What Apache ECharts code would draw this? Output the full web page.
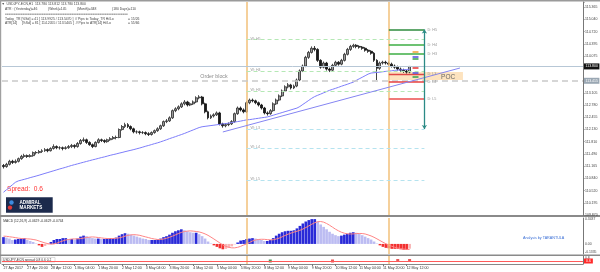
<!DOCTYPE html>
<html><head><meta charset="utf-8">
<script src="https://cdn.jsdelivr.net/npm/echarts@6/dist/echarts.min.js"></script>
<style>html,body{margin:0;padding:0;background:#fff}#c{width:600px;height:272px}</style>
</head><body><div id="c"></div>
<script>
// ---------- DATA ----------
const xTickLabels = ['27 Apr 2017','27 Apr 20:00','28 Apr 12:00','1 May 04:00','1 May 20:00','2 May 12:00','3 May 04:00','3 May 20:00','4 May 12:00','5 May 04:00','5 May 20:00','8 May 12:00','9 May 04:00','9 May 20:00','10 May 12:00','11 May 04:00','11 May 20:00','12 May 12:00'];
const priceLabels = ['109.870','110.195','110.520','110.840','111.165','111.490','111.810','112.130','112.455','112.780','113.105','113.430','113.750','114.075','114.395','114.720','115.040','115.365'];
const priceMin = 109.870, priceMax = 115.504, priceStep = 0.32324;
const slotCount = 196;           // bar slots incl. chart shift
const ticksEvery = 8;            // 2h bars, label every 16h

// [open, close, low, high], 2-hour bars
const candles = [
[111.18,111.15,111.10,111.22],[111.15,111.21,111.12,111.25],[111.21,111.29,111.18,111.33],[111.29,111.26,111.22,111.33],
[111.26,111.29,111.23,111.34],[111.29,111.36,111.26,111.39],[111.36,111.42,111.33,111.46],[111.42,111.44,111.38,111.49],
[111.44,111.42,111.38,111.47],[111.42,111.44,111.39,111.48],[111.44,111.52,111.41,111.55],[111.52,111.52,111.47,111.56],
[111.52,111.55,111.49,111.59],[111.55,111.57,111.51,111.61],[111.57,111.60,111.54,111.64],[111.60,111.57,111.53,111.63],
[111.57,111.63,111.55,111.66],[111.63,111.68,111.60,111.74],[111.68,111.65,111.61,111.71],[111.65,111.65,111.60,111.69],
[111.65,111.63,111.58,111.68],[111.63,111.65,111.60,111.69],[111.65,111.68,111.62,111.72],[111.68,111.71,111.64,111.75],
[111.71,111.68,111.63,111.74],[111.68,111.76,111.65,111.80],[111.76,111.84,111.73,111.88],[111.84,111.86,111.80,111.92],
[111.86,111.79,111.75,111.89],[111.79,111.73,111.70,111.82],[111.73,111.68,111.64,111.76],[111.68,111.79,111.66,111.82],
[111.79,111.86,111.76,111.90],[111.86,111.84,111.80,111.89],[111.84,111.81,111.77,111.87],[111.81,111.86,111.78,111.89],
[111.86,111.89,111.83,111.93],[111.89,111.92,111.86,111.96],[111.92,111.92,111.87,111.97],[111.92,112.13,111.90,112.16],
[112.13,112.21,112.10,112.25],[112.21,112.26,112.17,112.31],[112.26,112.21,112.17,112.30],[112.21,112.15,112.11,112.24],
[112.15,112.07,112.03,112.18],[112.07,112.07,112.02,112.11],[112.07,112.05,112.00,112.10],[112.05,112.05,112.01,112.09],
[112.05,112.02,111.98,112.08],[112.02,112.00,111.96,112.06],[112.00,112.05,111.97,112.08],[112.05,112.10,112.02,112.13],
[112.10,112.15,112.07,112.19],[112.15,112.23,112.12,112.26],[112.23,112.34,112.20,112.37],[112.34,112.36,112.30,112.41],
[112.36,112.44,112.33,112.48],[112.44,112.63,112.41,112.66],[112.63,112.68,112.59,112.72],[112.68,112.73,112.64,112.77],
[112.73,112.81,112.70,112.85],[112.81,112.86,112.77,112.91],[112.86,112.78,112.74,112.89],[112.78,112.81,112.75,112.85],
[112.81,112.86,112.78,112.90],[112.86,112.97,112.83,113.01],[112.97,112.99,112.93,113.04],[112.99,112.81,112.77,113.02],
[112.81,112.60,112.56,112.84],[112.60,112.44,112.40,112.63],[112.44,112.49,112.41,112.53],[112.49,112.52,112.45,112.56],
[112.52,112.57,112.49,112.61],[112.57,112.28,112.24,112.60],[112.28,112.23,112.18,112.31],[112.23,112.26,112.19,112.30],
[112.26,112.28,112.22,112.32],[112.28,112.34,112.25,112.38],[112.34,112.55,112.31,112.58],[112.55,112.70,112.52,112.74],
[112.70,112.65,112.61,112.74],[112.65,112.60,112.56,112.69],[112.60,112.84,112.57,112.88],[112.84,112.91,112.80,112.95],
[112.91,112.89,112.85,112.95],[112.89,112.84,112.80,112.92],[112.84,112.78,112.74,112.87],[112.78,112.70,112.66,112.81],
[112.70,112.57,112.53,112.73],[112.57,112.55,112.50,112.61],[112.55,112.63,112.52,112.67],[112.63,112.81,112.60,112.85],
[112.81,112.91,112.78,112.95],[112.91,113.02,112.88,113.06],[113.02,113.15,112.99,113.19],[113.15,113.26,113.12,113.30],
[113.26,113.31,113.22,113.36],[113.31,113.23,113.19,113.34],[113.23,113.28,113.20,113.32],[113.28,113.44,113.25,113.48],
[113.44,113.68,113.41,113.72],[113.68,113.81,113.65,113.85],[113.81,114.04,113.78,114.08],[114.04,114.17,114.00,114.21],
[114.17,114.28,114.14,114.33],[114.28,114.25,114.20,114.34],[114.25,113.96,113.92,114.28],[113.96,113.78,113.74,113.99],
[113.78,113.89,113.75,113.93],[113.89,113.73,113.69,113.92],[113.73,113.70,113.65,113.77],[113.70,113.83,113.67,113.87],
[113.83,113.91,113.80,113.95],[113.91,113.86,113.82,113.94],[113.86,113.96,113.83,114.00],[113.96,114.12,113.93,114.16],
[114.12,114.25,114.09,114.29],[114.25,114.33,114.21,114.37],[114.33,114.36,114.29,114.40],[114.36,114.33,114.28,114.39],
[114.33,114.31,114.27,114.36],[114.31,114.28,114.24,114.34],[114.28,114.23,114.19,114.31],[114.23,114.20,114.16,114.26],
[114.20,114.15,114.11,114.23],[114.15,113.96,113.92,114.18],[113.96,113.75,113.44,113.99],[113.75,113.89,113.71,113.93],
[113.89,113.91,113.85,113.95],[113.91,113.89,113.85,113.95],[113.89,113.86,113.82,113.93],[113.86,113.81,113.77,113.90],
[113.81,113.78,113.74,113.85],[113.78,113.73,113.69,113.82],[113.73,113.70,113.65,113.77],[113.70,113.68,113.63,113.74],
[113.68,113.65,113.61,113.71],[113.65,113.80,113.62,113.81]
];

const maValues = [
110.472,110.537,110.603,110.669,110.734,110.771,110.792,110.813,110.834,110.858,110.879,110.900,110.923,110.947,110.971,110.994,
111.018,111.041,111.065,111.089,111.110,111.133,111.157,111.181,111.202,111.223,111.244,111.265,111.286,111.307,111.328,111.346,
111.367,111.388,111.406,111.427,111.449,111.467,111.485,111.506,111.524,111.545,111.564,111.582,111.601,111.622,111.643,111.666,
111.690,111.711,111.734,111.758,111.779,111.805,111.832,111.860,111.889,111.916,111.942,111.971,111.997,112.026,112.057,112.089,
112.120,112.152,112.183,112.204,112.215,112.225,112.236,112.246,112.257,112.267,112.281,112.288,112.301,112.315,112.328,112.341,
112.354,112.370,112.386,112.393,112.404,112.417,112.428,112.441,112.451,112.464,112.485,112.509,112.533,112.556,112.580,112.604,
112.627,112.651,112.675,112.698,112.740,112.795,112.848,112.903,112.958,113.003,113.037,113.068,113.102,113.134,113.168,113.194,
113.220,113.247,113.276,113.302,113.328,113.357,113.383,113.430,113.472,113.512,113.554,113.596,113.625,113.633,113.641,113.648,
113.659,113.669,113.677,113.685,113.696,113.701,113.709,113.714,113.719,113.727
];

// trend line end points [bar, price]
const trendLine = [[74, 112.066], [154, 113.758]];

const macdValues = [
0.090,0.084,0.071,0.052,0.058,0.065,0.071,0.077,0.052,0.039,0.026,0.006,-0.019,-0.039,-0.026,-0.006,
0.026,0.052,0.065,0.065,0.077,0.077,0.065,0.065,0.058,0.071,0.097,0.110,0.103,0.090,0.077,0.071,
0.071,0.065,0.065,0.071,0.077,0.077,0.084,0.110,0.129,0.142,0.135,0.123,0.110,0.097,0.084,0.071,
0.065,0.052,0.052,0.052,0.058,0.071,0.090,0.103,0.123,0.148,0.168,0.181,0.194,0.181,0.168,0.155,
0.148,0.148,0.129,0.103,0.071,0.032,0.006,-0.019,-0.039,-0.058,-0.071,-0.065,-0.052,-0.032,-0.006,0.019,
0.045,0.052,0.065,0.071,0.077,0.071,0.065,0.052,0.039,0.039,0.052,0.077,0.110,0.135,0.155,0.168,
0.174,0.174,0.181,0.206,0.239,0.271,0.297,0.316,0.329,0.329,0.297,0.258,0.226,0.194,0.161,0.135,
0.116,0.103,0.110,0.123,0.135,0.148,0.155,0.148,0.135,0.116,0.097,0.077,0.058,0.032,0.006,-0.019,
-0.039,-0.052,-0.058,-0.065,-0.065,-0.065,-0.071,-0.077,-0.077,-0.063
];
const signalValues = [
0.103,0.101,0.095,0.090,0.084,0.077,0.072,0.070,0.067,0.065,0.059,0.052,0.039,0.026,0.013,0.004,
-0.003,0.000,0.010,0.026,0.039,0.052,0.059,0.065,0.067,0.067,0.071,0.077,0.085,0.090,0.093,0.090,
0.085,0.080,0.075,0.072,0.071,0.072,0.075,0.081,0.090,0.103,0.114,0.120,0.123,0.120,0.114,0.103,
0.093,0.083,0.072,0.065,0.059,0.059,0.065,0.075,0.088,0.103,0.120,0.137,0.152,0.164,0.170,0.173,
0.170,0.165,0.159,0.148,0.133,0.114,0.090,0.065,0.039,0.013,-0.013,-0.032,-0.045,-0.052,-0.052,-0.045,
-0.032,-0.015,0.000,0.019,0.039,0.052,0.059,0.062,0.061,0.057,0.054,0.055,0.065,0.077,0.094,0.112,
0.129,0.144,0.157,0.168,0.181,0.197,0.217,0.239,0.261,0.281,0.294,0.297,0.289,0.271,0.248,0.222,
0.196,0.174,0.155,0.142,0.134,0.132,0.133,0.137,0.139,0.138,0.132,0.120,0.106,0.088,0.067,0.045,
0.023,0.003,-0.015,-0.031,-0.044,-0.054,-0.062,-0.068,-0.072,-0.074
];
const macdMin = -0.1335, macdMax = 0.3437;

// weekly / daily Camarilla levels
const weekLevelNames  = ['W: H5','W: H4','W: H3','W: L3','W: L4','W: L5'];
const weekLevelPrices = [114.512, 113.679, 113.150, 112.145, 111.643, 110.796];
const dayLevelNames   = ['D: H5','D: H4','D: H3','D: L3','D: L4','D: L5'];
const dayLevelPrices  = [114.777, 114.367, 114.129, 113.600, 113.388, 112.939];
const weekStartBar = 82, dayStartBar = 130, levelEndBar = 142;
const atrTarget = [114.777, 112.145];
const pocZone = [130, 155, 113.653, 113.441];
const orderBlockPrice = 113.415, lastPrice = 113.800;
const pivotMarkPrices = [114.182, 114.050, 113.997, 113.759, 113.626, 113.520];
const pivotMarkBars = [138, 140];

const spreadNow = 0.6;
const spreadMarkBars = [90, 111, 133, 137];
const spreadMarkValues = [0.6, 0.6, 0.62, 0.62];

// ---------- STYLES ----------
const FONT = 'Liberation Sans';
const pivotMarkColors = ['#f0a030','#4a4ae0','#2fa04a','#e83030','#4a4ae0','#2fa04a'];
const spreadMarkColors = ['#1f7a2f','#e03030','#e03030','#e03030'];
const wColors = ['#b5e8b5','#b5e8b5','#b5e8b5','#b5e3ef','#b5e3ef','#b5e3ef'];
const dColors = ['#2e8b3e','#3cae45','#3cae45','#e04848','#e84040','#f07a7a'];
const dWidths = [1.5,1.5,1.5,1.3,1.5,2.2];

const cats = Array.from({length: slotCount}, (_, i) => String(i));
const tickShown = (i) => i % ticksEvery === 0 && i / ticksEvery < xTickLabels.length;

function priceLabel(v) {
  const k = Math.round((v - priceMin) / priceStep);
  if (Math.abs(v - (priceMin + k * priceStep)) < 0.01 && priceLabels[k]) return priceLabels[k];
  return '';
}

const levelLines = [];
weekLevelPrices.forEach((p, i) => {
  levelLines.push([
    {coord: [weekStartBar, p], lineStyle: {color: wColors[i], width: 1, type: [4, 3]},
     label: {show: true, position: 'insideStartTop', distance: [4, -1], formatter: weekLevelNames[i], fontSize: 3.6, color: '#999', fontFamily: FONT}},
    {coord: [levelEndBar, p]}
  ]);
});
dayLevelPrices.forEach((p, i) => {
  levelLines.push([
    {coord: [dayStartBar, p], lineStyle: {color: dColors[i], width: dWidths[i], type: 'solid'},
     label: {show: true, position: 'end', distance: 3, formatter: dayLevelNames[i], fontSize: 3.8, color: '#999', fontFamily: FONT}},
    {coord: [levelEndBar, p]}
  ]);
});
pivotMarkPrices.forEach((p, i) => {
  levelLines.push([
    {coord: [pivotMarkBars[0], p], lineStyle: {color: pivotMarkColors[i], width: 1.5, type: 'solid'}, label: {show: false}},
    {coord: [pivotMarkBars[1], p]}
  ]);
});
levelLines.push([
  {coord: trendLine[0], lineStyle: {color: '#8585f2', width: 1, type: 'solid'}, label: {show: false}},
  {coord: trendLine[1]}
]);
levelLines.push([
  {coord: [levelEndBar, atrTarget[0]], symbol: 'arrow', symbolSize: 4, lineStyle: {color: '#2b8a86', width: 1.3, type: 'solid'}, label: {show: false}},
  {coord: [levelEndBar, atrTarget[1]], symbol: 'arrow', symbolSize: 4}
]);

const vlineMark = {
  silent: true, symbol: ['none', 'none'], animation: false,
  lineStyle: {color: '#f2c17a', width: 1.5, type: 'solid'},
  label: {show: false},
  data: [{xAxis: weekStartBar}, {xAxis: dayStartBar}]
};

const macdBars = macdValues.map((v, i) => {
  const prev = i ? macdValues[i - 1] : v;
  let c;
  if (v >= 0) c = v >= prev ? '#2a2ad8' : '#bcbcf2';
  else c = v <= prev ? '#f23030' : '#f8b4b4';
  return {value: v, itemStyle: {color: c}};
});

const gridBase = {left: 2, right: 17, outerBoundsMode: 'none', containLabel: false};
const hiddenX = (gi) => ({type: 'category', gridIndex: gi, data: cats, boundaryGap: true,
  axisLine: {show: false}, axisTick: {show: false}, axisLabel: {show: false}, splitLine: {show: false}});

const txt = (x, y, s, size, color, extra) => Object.assign({type: 'text', x: x, y: y, silent: true,
  style: {text: s, fontSize: size, fill: color, fontFamily: FONT, textVerticalAlign: 'middle'}}, extra || {});

const header = [
  txt(1.5, 4.3, '\u25BC', 3.4, '#555'),
  txt(6.5, 4.3, 'USDJPY-ECN,H1  113.780 113.812 113.780 113.800', 3.4, '#444'),
  txt(5, 9.3, 'ATR : (Yesterday)=46', 3.4, '#444'),
  txt(48, 9.3, '(Week)=145', 3.4, '#444'),
  txt(77, 9.3, '(Month)=348', 3.4, '#444'),
  txt(112, 9.3, '(180 Days)=110', 3.4, '#444'),
  txt(5, 14, '======================================================================', 3.0, '#555'),
  txt(5, 19, 'Today_TR [%Sd] = 41 [ 113.9925 / 113.5470 ]  // Pips to Today_TR Hi/Lo', 3.4, '#444'),
  txt(128, 19, '= 15/26', 3.4, '#444'),
  txt(5, 23.5, 'ATR[14]     [%Sd] = 81 [ 114.2055 / 113.5405 ]  // Pips to ATR[14] Hi/Lo', 3.4, '#444'),
  txt(128, 23.5, '= 55/66', 3.4, '#444')
];

const option = {
  animation: false,
  textStyle: {fontFamily: FONT},
  grid: [
    Object.assign({top: 2, height: 213}, gridBase),
    Object.assign({top: 218, height: 36}, gridBase),
    Object.assign({top: 256, height: 8}, gridBase)
  ],
  xAxis: [
    hiddenX(0), hiddenX(1),
    {type: 'category', gridIndex: 2, data: cats, boundaryGap: true,
     axisLine: {show: true, lineStyle: {color: '#888', width: 1}},
     axisTick: {show: true, interval: tickShown, alignWithLabel: true, length: 2, lineStyle: {color: '#777'}},
     axisLabel: {show: true, interval: tickShown, formatter: (v, idx) => xTickLabels[idx / ticksEvery] || '',
       fontSize: 3.6, color: '#333', margin: 2, align: 'left', fontFamily: FONT},
     splitLine: {show: false}}
  ],
  yAxis: [
    {type: 'value', gridIndex: 0, position: 'right', min: priceMin, max: priceMax, interval: priceStep, scale: true,
     axisLine: {show: true, lineStyle: {color: '#777', width: 1}},
     axisTick: {show: true, length: 1.5, lineStyle: {color: '#777'}},
     axisLabel: {show: true, formatter: priceLabel, fontSize: 3.5, color: '#444', margin: 2, fontFamily: FONT},
     splitLine: {show: false}},
    {type: 'value', gridIndex: 1, position: 'right', min: macdMin, max: macdMax,
     axisLine: {show: true, lineStyle: {color: '#777', width: 1}},
     axisTick: {show: false}, axisLabel: {show: false}, splitLine: {show: false}},
    {type: 'value', gridIndex: 2, position: 'right', min: 0.48, max: 0.8,
     axisLine: {show: true, lineStyle: {color: '#777', width: 1}},
     axisTick: {show: false}, axisLabel: {show: false}, splitLine: {show: false}}
  ],
  series: [
    {type: 'candlestick', name: 'USDJPY', xAxisIndex: 0, yAxisIndex: 0, data: candles, barWidth: 2.4, z: 3,
     itemStyle: {color: '#9a9a9a', color0: '#1a1a1a', borderColor: '#2a2a2a', borderColor0: '#111111', borderWidth: 0.8},
     markArea: {silent: true, itemStyle: {color: '#fde3bf'}, label: {show: false},
       data: [[{coord: [pocZone[0], pocZone[2]]}, {coord: [pocZone[1], pocZone[3]]}]]},
     markLine: {silent: true, symbol: ['none', 'none'], animation: false,
       data: [
         {xAxis: weekStartBar, lineStyle: {color: '#f2c17a', width: 1.5, type: 'solid'}, label: {show: false}},
         {xAxis: dayStartBar, lineStyle: {color: '#f2c17a', width: 1.5, type: 'solid'}, label: {show: false}},
         {yAxis: orderBlockPrice, lineStyle: {color: '#c9c9c9', width: 1.5, type: [6, 4]},
          label: {show: true, position: 'end', distance: 1, formatter: '113.415', fontSize: 3.5, color: '#fff',
            backgroundColor: '#9aa7b3', padding: [1, 1.5], fontFamily: FONT}},
         {yAxis: lastPrice, lineStyle: {color: '#b7c7d6', width: 1, type: 'solid'},
          label: {show: true, position: 'end', distance: 1, formatter: '113.800', fontSize: 3.5, color: '#fff',
            backgroundColor: '#111', padding: [1, 1.5], fontFamily: FONT}}
       ]}},
    {type: 'line', name: 'MA', xAxisIndex: 0, yAxisIndex: 0, data: maValues, showSymbol: false, symbol: 'none', z: 4,
     lineStyle: {color: '#7d7dfa', width: 1},
     markLine: {silent: true, symbol: ['none', 'none'], animation: false, data: levelLines},
     markPoint: {silent: true, animation: false, symbol: 'circle', symbolSize: 1, itemStyle: {color: 'rgba(0,0,0,0)'},
       data: [
         {coord: [71, 113.52], label: {show: true, position: 'inside', formatter: 'Order block', fontSize: 5.3, color: '#8a8a8a', fontFamily: FONT}},
         {coord: [150, 113.52], label: {show: true, position: 'inside', formatter: 'POC', fontSize: 6.5, color: '#666', fontFamily: FONT}}
       ]}},
    {type: 'bar', name: 'MACD', xAxisIndex: 1, yAxisIndex: 1, data: macdBars, barCategoryGap: '10%',
     markLine: vlineMark},
    {type: 'line', name: 'Signal', xAxisIndex: 1, yAxisIndex: 1, data: signalValues, showSymbol: false, symbol: 'none',
     lineStyle: {color: '#ff8585', width: 1}, z: 4},
    {type: 'scatter', name: 'Spread', xAxisIndex: 2, yAxisIndex: 2, symbol: 'rect', symbolSize: 3,
     data: spreadMarkBars.map((b, i) => ({value: [b, spreadMarkValues[i]], itemStyle: {color: spreadMarkColors[i]}})),
     markLine: {silent: true, symbol: ['none', 'none'], animation: false,
       data: [
         {xAxis: weekStartBar, lineStyle: {color: '#f2c17a', width: 1.5, type: 'solid'}, label: {show: false}},
         {xAxis: dayStartBar, lineStyle: {color: '#f2c17a', width: 1.5, type: 'solid'}, label: {show: false}},
         {yAxis: spreadNow, lineStyle: {color: '#ff5a5a', width: 1, type: 'solid'},
          label: {show: true, position: 'end', distance: 1, formatter: '0.6', fontSize: 3.5, color: '#fff',
            backgroundColor: '#ff2a2a', padding: [0.5, 2], fontFamily: FONT}}
       ]}}
  ],
  graphic: [
    {type: 'rect', shape: {x: 0, y: 0, width: 600, height: 1.5}, style: {fill: '#9a9a9a'}, silent: true},
    {type: 'rect', shape: {x: 0, y: 0, width: 1.2, height: 264}, style: {fill: '#a0a0a0'}, silent: true},
    {type: 'rect', shape: {x: 0, y: 215, width: 600, height: 2}, style: {fill: '#8a8a8a'}, silent: true},
    {type: 'rect', shape: {x: 0, y: 254.5, width: 600, height: 1.5}, style: {fill: '#8a8a8a'}, silent: true},
    ...header,
    txt(7, 189.5, 'Spread:  0.6', 6.6, '#ff3030'),
    {type: 'rect', shape: {x: 6, y: 197.3, width: 46.7, height: 15.4}, style: {fill: '#1c2a4c'}, silent: true},
    {type: 'circle', shape: {cx: 11.5, cy: 202.5, r: 2.2}, style: {fill: '#3d8be0'}, silent: true},
    {type: 'circle', shape: {cx: 10, cy: 207.6, r: 2.2}, style: {fill: '#e03a3a'}, silent: true},
    txt(19.5, 202.8, 'ADMIRAL', 4.6, '#ffffff', {style: {text: 'ADMIRAL', fontSize: 4.6, fill: '#fff', fontWeight: 'bold', fontFamily: FONT, textVerticalAlign: 'middle'}}),
    txt(19.5, 207.8, 'MARKETS', 4.6, '#ffffff', {style: {text: 'MARKETS', fontSize: 4.6, fill: '#fff', fontWeight: 'bold', fontFamily: FONT, textVerticalAlign: 'middle'}}),
    txt(3.3, 221.3, 'MACD (12,26,9) -0.0629 -0.0629 -0.0744', 3.3, '#333'),
    txt(585, 219.5, '0.3437', 3.4, '#444'),
    txt(585, 244, '0.00', 3.4, '#444'),
    txt(585, 252.3, '-0.1335', 3.4, '#444'),
    txt(585, 258, '0.8', 3.4, '#444'),
    txt(523, 238.3, 'Analysis by TARANTULA', 3.7, '#3a6fd6'),
    {type: 'rect', shape: {x: 2, y: 257.5, width: 53, height: 4.5}, style: {fill: '#fff', stroke: '#bbb', lineWidth: 0.5}, silent: true},
    txt(3, 259.8, 'USDJPY-ECN spread 0.8 0.6 0.2', 3.3, '#333')
  ]
};

const chart = echarts.init(document.getElementById('c'), null, {renderer: 'canvas', width: 600, height: 272});
chart.setOption(option);
</script>
</body></html>
